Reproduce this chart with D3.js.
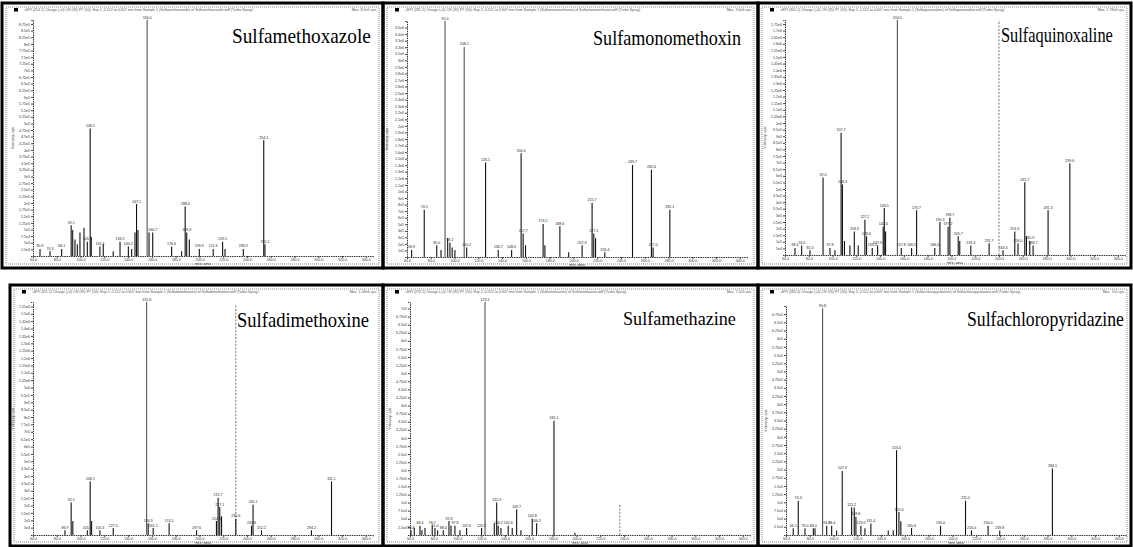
<!DOCTYPE html>
<html>
<head>
<meta charset="utf-8">
<script src="https://cdn.jsdelivr.net/npm/d3@7"></script>
<style>
body { margin: 0; background: #fff; }
svg { display: block; }
</style>
</head>
<body>
<svg id="fig" width="1133" height="547"></svg>
<script>
// compound names, one per panel (left to right, top to bottom)
var names = ["Sulfamethoxazole", "Sulfamonomethoxin", "Sulfaquinoxaline",
             "Sulfadimethoxine", "Sulfamethazine", "Sulfachloropyridazine"];
var precursors = ["254.1", "281.1", "301.1", "311.1", "279.1", "285.0"];
var maxCounts = [8.9e5, 3.6e6, 1.78e6, 1.58e6, 7.2e5, 7.0e5];
var countSteps = [2.5e4, 1e5, 5e4, 5e4, 2.5e4, 2.5e4];

// m/z axis
var mzDomain = [60, 346];
var mzTicks = [60, 80, 100, 120, 140, 160, 180, 200, 220, 240, 260, 280, 300, 320, 340];

// peaks: [m/z, % of max intensity, labelled]
var peaksSmx = [[65.9, 3, 1], [74.3, 2, 1], [84.1, 3, 1], [92.1, 13, 1], [93.4, 11, 0], [95.3, 7, 0],
    [97.3, 5, 0], [99.5, 10, 0], [102.9, 12, 0], [105.7, 6, 1], [108.1, 54, 1], [109.0, 8, 0],
    [116.3, 4, 1], [119.1, 5, 0], [127.5, 2, 0], [133.2, 6, 1], [140.2, 4, 1], [143.0, 3, 0],
    [145.8, 10, 0], [147.1, 22, 1], [148.3, 11, 0], [156.0, 100, 1], [157.6, 10, 0], [160.7, 10, 1],
    [176.6, 4, 1], [185.0, 2, 0], [188.0, 21, 1], [189.3, 10, 1], [191.5, 7, 0], [199.9, 3, 1],
    [211.6, 3, 1], [219.5, 6, 1], [221.5, 3, 0], [236.9, 3, 1], [254.1, 49, 1], [255.1, 5, 1]];

var peaksSmm = [[63.9, 3, 1], [74.5, 20, 1], [85.0, 5, 1], [88.6, 3, 0], [92.0, 100, 1], [94.2, 8, 0],
    [96.1, 6, 1], [98.0, 4, 0], [100.3, 3, 0], [108.1, 89, 1], [110.2, 4, 1], [126.1, 40, 1],
    [136.7, 3, 1], [148.0, 3, 1], [156.0, 44, 1], [157.7, 10, 1], [159.7, 5, 0], [174.5, 14, 1],
    [176.0, 5, 0], [188.6, 13, 1], [196.0, 2, 0], [207.3, 5, 1], [215.7, 23, 1], [217.1, 10, 1],
    [218.6, 8, 0], [226.4, 2, 1], [249.7, 39, 1], [265.6, 37, 1], [267.0, 4, 1], [281.1, 20, 1]];

var peaksSqx = [[68.4, 3, 1], [74.0, 4, 1], [81.0, 2, 1], [92.0, 33, 1], [97.8, 3, 1], [102.0, 2, 0],
    [107.2, 52, 1], [108.3, 30, 1], [110.0, 6, 0], [114.6, 4, 0], [118.3, 10, 1], [121.6, 4, 0],
    [127.2, 15, 1], [128.6, 8, 1], [133.4, 3, 1], [137.9, 4, 1], [142.6, 12, 1], [143.5, 20, 1],
    [144.6, 10, 0], [154.5, 100, 1], [157.8, 3, 1], [166.5, 3, 1], [170.7, 19, 1], [186.0, 3, 1],
    [190.3, 14, 1], [197.2, 12, 1], [198.7, 16, 1], [205.7, 8, 1], [207.0, 6, 0], [216.3, 4, 1],
    [231.7, 5, 1], [243.4, 2, 1], [253.3, 10, 1], [256.0, 5, 1], [261.7, 31, 1], [263.1, 8, 0],
    [265.9, 6, 1], [268.7, 4, 1], [281.3, 19, 1], [299.6, 39, 1]];

var peaksSdm = [[86.9, 2, 1], [92.1, 14, 1], [93.5, 6, 0], [105.7, 2, 1], [108.1, 23, 1], [109.3, 6, 0],
    [116.3, 2, 1], [127.5, 3, 1], [155.6, 100, 1], [156.9, 5, 1], [161.1, 3, 1], [174.5, 5, 1],
    [197.6, 2, 1], [214.3, 6, 1], [215.7, 16, 1], [217.1, 12, 1], [218.6, 8, 0], [230.6, 7, 1],
    [243.8, 4, 1], [245.1, 13, 1], [252.2, 2, 1], [294.2, 2, 1], [311.1, 23, 1]];

var peaksSmz = [[60.8, 2, 1], [63.6, 3, 0], [68.4, 4, 1], [70.0, 2, 0], [72.6, 3, 0], [78.7, 4, 1],
    [81.0, 3, 1], [83.3, 2, 0], [88.0, 2, 1], [92.8, 6, 1], [94.5, 4, 0], [97.8, 4, 1], [102.0, 2, 0],
    [107.6, 3, 1], [120.2, 3, 1], [123.1, 100, 1], [130.9, 5, 0], [132.9, 14, 1], [134.2, 4, 1],
    [136.5, 3, 0], [142.6, 4, 1], [146.0, 3, 0], [149.7, 11, 1], [153.3, 2, 0], [162.8, 7, 1],
    [166.5, 5, 1], [181.1, 49, 1], [198.7, 1, 0]];

var peaksScp = [[66.1, 3, 1], [70.3, 15, 1], [76.0, 3, 1], [83.0, 3, 1], [84.4, 3, 0], [90.8, 99, 1],
    [94.2, 4, 1], [98.4, 4, 1], [102.6, 2, 0], [107.3, 28, 1], [115.2, 12, 1], [117.4, 12, 0],
    [118.8, 8, 1], [123.0, 4, 1], [126.4, 3, 0], [131.4, 5, 1], [146.0, 2, 0], [150.2, 2, 0],
    [153.0, 37, 1], [155.0, 10, 1], [156.6, 6, 0], [165.6, 3, 1], [190.0, 4, 1], [211.0, 15, 1],
    [216.0, 2, 1], [230.0, 4, 1], [239.8, 2, 1], [284.1, 29, 1]];

var allPeaks = [peaksSmx, peaksSmm, peaksSqx, peaksSdm, peaksSmz, peaksScp];

// dashed cursor lines: [m/z, % height], per panel
var markers = [[], [], [[240.0, 100]], [[230.6, 99]], [[236.5, 13]], []];

// panel geometry
var layout = [
    {x: 2,   y: 3,   w: 381, h: 265, ax: 33,  ay: 256, top: 20,  tx: 232, ty: 43,  tw: 139, fs: 21},
    {x: 383, y: 3,   w: 375, h: 265, ax: 407, ay: 257, top: 21,  tx: 593, ty: 45,  tw: 148, fs: 20},
    {x: 758, y: 3,   w: 373, h: 265, ax: 785, ay: 255, top: 20,  tx: 1001, ty: 42, tw: 112, fs: 20},
    {x: 10,  y: 285, w: 373, h: 261, ax: 33,  ay: 535, top: 302, tx: 237, ty: 327, tw: 132, fs: 20},
    {x: 383, y: 285, w: 375, h: 261, ax: 410, ay: 535, top: 302, tx: 623, ty: 325, tw: 113, fs: 19},
    {x: 758, y: 285, w: 373, h: 261, ax: 786, ay: 535, top: 306, tx: 967, ty: 326, tw: 157, fs: 20}
];

var svg = d3.select("#fig");
var sans = "'Liberation Sans', Arial, sans-serif";

function countFmt(v) {
    return d3.format(".2~e")(v).replace("+", "");
}

layout.forEach(function(p, i) {
    var g = svg.append("g").attr("class", "panel");
    var maxC = maxCounts[i];

    // window frame
    g.append("rect")
        .attr("x", p.x + 4).attr("y", p.y + 4)
        .attr("width", p.w - 8).attr("height", p.h - 8)
        .attr("fill", "none").attr("stroke", "#888")
        .attr("stroke-dasharray", "1,1");
    g.append("rect")
        .attr("x", p.x).attr("y", p.y)
        .attr("width", p.w).attr("height", p.h)
        .attr("fill", "none").attr("stroke", "#000").attr("stroke-width", 3);

    // title bar
    g.append("rect")
        .attr("x", p.x + 12).attr("y", p.y + 5)
        .attr("width", 4).attr("height", 3.5).attr("fill", "#000");
    g.append("text")
        .attr("x", p.x + 22).attr("y", p.y + 8)
        .attr("font-family", sans).attr("font-size", 3.6).attr("fill", "#555")
        .text("+EPI (" + precursors[i] + ") Charge (+0) CE (35) FT (50): Exp 2, 0.512 to 0.607 min from Sample 1 (" +
              names[i] + ") of " + names[i] + ".wiff (Turbo Spray)");
    g.append("text")
        .attr("x", p.x + p.w - 6).attr("y", p.y + 8)
        .attr("text-anchor", "end")
        .attr("font-family", sans).attr("font-size", 3.6).attr("fill", "#555")
        .text("Max. " + countFmt(maxC) + " cps.");

    var x = d3.scaleLinear().domain(mzDomain).range([p.ax, p.ax + 340]);
    var y = d3.scaleLinear().domain([0, maxC]).range([p.ay, p.top]);
    var yTicks = d3.range(countSteps[i], maxC, countSteps[i]);

    var yAxis = g.append("g")
        .attr("transform", "translate(" + p.ax + ",0)")
        .call(d3.axisLeft(y).tickValues(yTicks).tickSize(2).tickPadding(1).tickFormat(countFmt));
    var xAxis = g.append("g")
        .attr("transform", "translate(0," + p.ay + ")")
        .call(d3.axisBottom(x).tickValues(mzTicks).tickSize(2).tickPadding(0.5).tickFormat(d3.format(".1f")));

    [yAxis, xAxis].forEach(function(a) {
        a.attr("font-size", 3.6).attr("font-family", sans);
        a.selectAll("text").attr("fill", "#333");
        a.selectAll(".tick line").attr("stroke", "#444");
        a.select(".domain").attr("stroke", "#333").attr("stroke-dasharray", "1.5,0.8");
    });

    g.append("text")
        .attr("transform", "translate(" + (p.ax - 19) + "," + ((p.top + p.ay) / 2) + ") rotate(-90)")
        .attr("text-anchor", "middle")
        .attr("font-family", sans).attr("font-size", 3.8).attr("fill", "#333")
        .text("Intensity, cps");
    g.append("text")
        .attr("x", p.ax + 170).attr("y", p.ay + 9)
        .attr("text-anchor", "middle")
        .attr("font-family", sans).attr("font-size", 3.8).attr("fill", "#333")
        .text("m/z, amu");

    // cursor lines
    g.selectAll("line.marker")
        .data(markers[i])
        .enter().append("line")
        .attr("class", "marker")
        .attr("x1", function(d) { return x(d[0]); })
        .attr("x2", function(d) { return x(d[0]); })
        .attr("y1", y(0))
        .attr("y2", function(d) { return y(d[1] / 100 * maxC); })
        .attr("stroke", "#555").attr("stroke-width", 0.8)
        .attr("stroke-dasharray", "2,1.5");

    // peaks
    g.selectAll("line.peak")
        .data(allPeaks[i])
        .enter().append("line")
        .attr("class", "peak")
        .attr("x1", function(d) { return x(d[0]); })
        .attr("x2", function(d) { return x(d[0]); })
        .attr("y1", y(0))
        .attr("y2", function(d) { return y(d[1] / 100 * maxC); })
        .attr("stroke", "#111")
        .attr("stroke-width", function(d) { return d[1] > 60 ? 0.8 : 1.1; });

    g.selectAll("text.plabel")
        .data(allPeaks[i].filter(function(d) { return d[2]; }))
        .enter().append("text")
        .attr("class", "plabel")
        .attr("x", function(d) { return x(d[0]); })
        .attr("y", function(d) { return y(d[1] / 100 * maxC) - 1.5; })
        .attr("text-anchor", "middle")
        .attr("font-family", sans).attr("font-size", 3.6).attr("fill", "#222")
        .text(function(d) { return d3.format(".1f")(d[0]); });

    // compound name, squeezed horizontally like the pasted text boxes
    var title = g.append("text")
        .attr("font-family", "'Liberation Serif', 'Times New Roman', serif")
        .attr("font-size", p.fs)
        .attr("fill", "#000")
        .text(names[i]);
    var natural = title.node().getComputedTextLength();
    title.attr("transform", "translate(" + p.tx + "," + p.ty + ") scale(" + (p.tw / natural) + ",1)");
});
</script>
</body>
</html>
